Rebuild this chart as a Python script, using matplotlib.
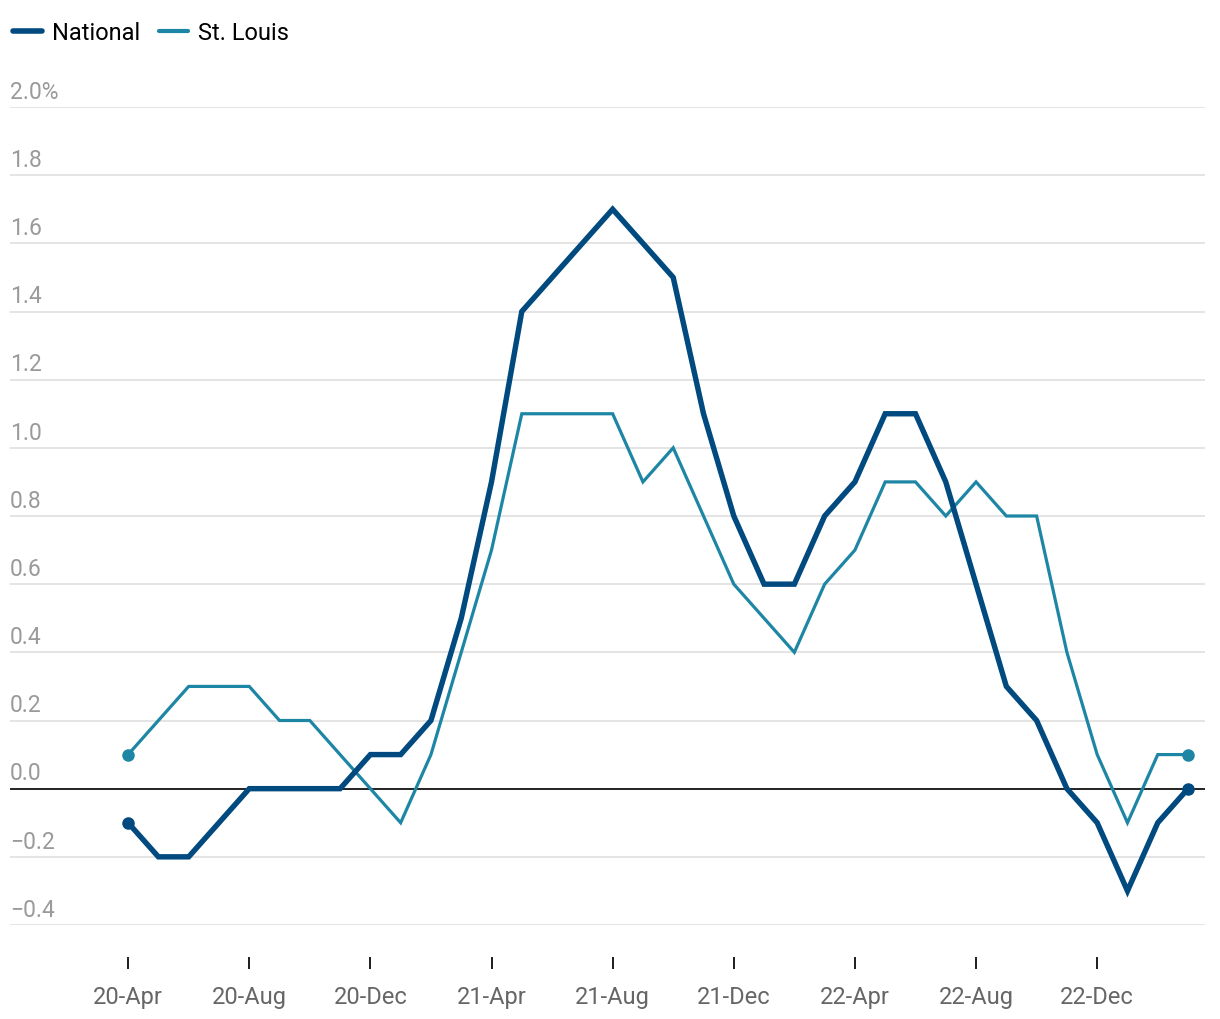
"""Monthly change: National vs St. Louis, Apr 2020 - Mar 2023."""

import matplotlib

matplotlib.use("Agg")
import matplotlib.pyplot as plt
from matplotlib.lines import Line2D
from matplotlib.transforms import blended_transform_factory

plt.rcParams["font.family"] = ["Roboto", "DejaVu Sans"]

# one value per month, 20-Apr through 23-Mar
NATIONAL = [
    -0.1, -0.2, -0.2, -0.1, 0.0, 0.0, 0.0, 0.0, 0.1, 0.1, 0.2, 0.5,
    0.9, 1.4, 1.5, 1.6, 1.7, 1.6, 1.5, 1.1, 0.8, 0.6, 0.6, 0.8,
    0.9, 1.1, 1.1, 0.9, 0.6, 0.3, 0.2, 0.0, -0.1, -0.3, -0.1, 0.0,
]
ST_LOUIS = [
    0.1, 0.2, 0.3, 0.3, 0.3, 0.2, 0.2, 0.1, 0.0, -0.1, 0.1, 0.4,
    0.7, 1.1, 1.1, 1.1, 1.1, 0.9, 1.0, 0.8, 0.6, 0.5, 0.4, 0.6,
    0.7, 0.9, 0.9, 0.8, 0.9, 0.8, 0.8, 0.4, 0.1, -0.1, 0.1, 0.1,
]
X_TICKS = [0, 4, 8, 12, 16, 20, 24, 28, 32]
X_LABELS = ["20-Apr", "20-Aug", "20-Dec", "21-Apr", "21-Aug",
            "21-Dec", "22-Apr", "22-Aug", "22-Dec"]
Y_TICKS = [-0.4, -0.2, 0.0, 0.2, 0.4, 0.6, 0.8, 1.0, 1.2, 1.4, 1.6, 1.8, 2.0]

NAT_COLOR = "#004a7f"
STL_COLOR = "#1e86a5"

W, H = 1220, 1020
PX = 72 / 100  # points per pixel at dpi 100
fig = plt.figure(figsize=(W / 100, H / 100), dpi=100)
ax = fig.add_axes([10 / W, (H - 926) / H, 1195 / W, (926 - 108) / H])

months = list(range(len(NATIONAL)))
ax.plot(months, ST_LOUIS, color=STL_COLOR, lw=2.3, solid_joinstyle="miter", zorder=3)
ax.plot(months, NATIONAL, color=NAT_COLOR, lw=3.9, solid_joinstyle="miter", zorder=4)
for series, color in ((ST_LOUIS, STL_COLOR), (NATIONAL, NAT_COLOR)):
    ends = [months[0], months[-1]]
    ax.plot(ends, [series[0], series[-1]], "o", color=color, ms=8, zorder=5)

ax.set_xlim(-3.9, 35.56)
ax.set_ylim(-0.4, 2.0)

# grid lines + labels sitting above each line
trans = blended_transform_factory(ax.transAxes, ax.transData)
for v in Y_TICKS:
    if v == 0:
        ax.axhline(v, color="#111111", lw=1.3, zorder=2)
    else:
        ax.axhline(v, color="#e2e2e2", lw=1.3, zorder=1)
    label = f"{v:.1f}".replace("-", "\u2212")
    if v == 2.0:
        label += "%"
    ax.text(0, v + 0.027, label, transform=trans, ha="left", va="baseline",
            fontsize=16.5, color="#9a9a9a")

ax.set_yticks([])
for side in ("left", "right", "top"):
    ax.spines[side].set_visible(False)
ax.spines["bottom"].set_position(("outward", 32 * PX))
ax.spines["bottom"].set_visible(False)
ax.set_xticks(X_TICKS)
ax.set_xticklabels(X_LABELS, fontsize=17, color="#666666")
ax.tick_params(axis="x", length=12 * PX, width=2 * PX, color="#222222", pad=16 * PX)

handles = [
    Line2D([], [], color=NAT_COLOR, lw=4, solid_capstyle="round"),
    Line2D([], [], color=STL_COLOR, lw=3, solid_capstyle="round"),
]
fig.legend(handles, ["National", "St. Louis"], loc="upper left",
           bbox_to_anchor=(-8 / W, 1.0 - 1 / H), ncol=2, frameon=False, fontsize=17,
           handlelength=1.2, handletextpad=0.45, columnspacing=0.8,
           borderaxespad=0.5)

fig.savefig("out.png", dpi=100)
